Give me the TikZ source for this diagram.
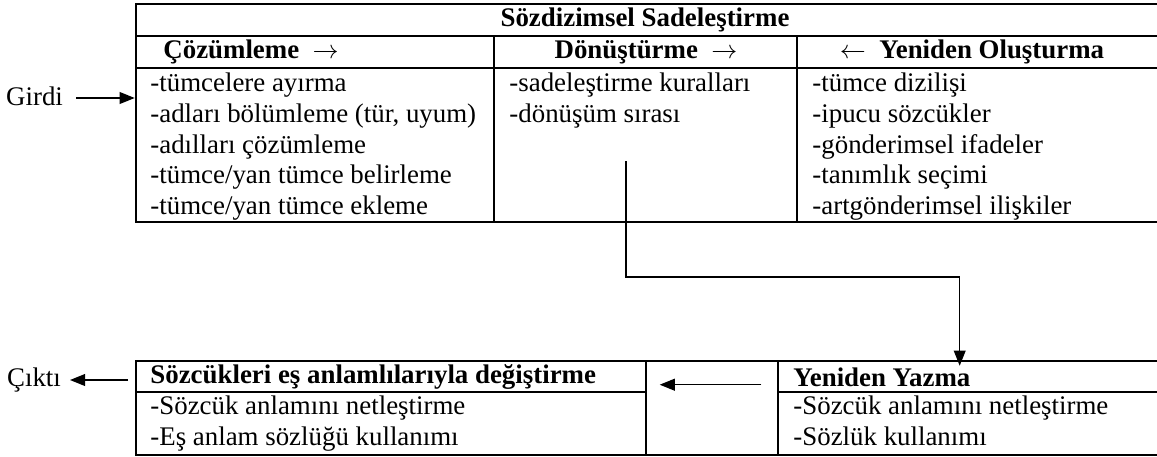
\documentclass[tikz,border=0pt,12pt]{standalone}
\usepackage{fontspec}
\setmainfont{Liberation Serif}
\usetikzlibrary{arrows.meta,fit}

\begin{document}
\begin{tikzpicture}[x=0.4615pt,y=-0.4615pt,font=\fontsize{12.4}{14.2}\selectfont]
		\tikzstyle{frame}=[draw,line width=1.2pt,inner sep=0pt]
		\tikzstyle{head}=[font=\fontsize{12.4}{14.2}\selectfont\bfseries,inner sep=0pt]
		\tikzstyle{items}=[anchor=north west,align=left,inner sep=0pt]
		\tikzstyle{flow}=[-{Triangle[length=7pt,width=5.5pt]},line width=0.6pt]
		
		\useasboundingbox (0,0) rectangle (1157,456);
		
		% ust tablo
		\node[frame,fit={(136,4) (1158,222)}] (sozdizim) {};
		\draw[line width=1.2pt] (136,36) -- (1158,36) (136,68) -- (1158,68)
			(494,36) -- (494,222) (797,36) -- (797,222);
		
		\node[head] (baslik) at (645,20) {Sözdizimsel Sadeleştirme};
		\node[head,anchor=west] (cozh) at (163,52) {Çözümleme~~$\rightarrow$};
		\node[head] (donh) at (646,52) {Dönüştürme~~$\rightarrow$};
		\node[head] (yenh) at (972,52) {$\leftarrow$~~Yeniden Oluşturma};
		
		\node[items] (cozliste) at (150,69.5) {\strut-tümcelere ayırma\\-adları bölümleme (tür, uyum)\\-adılları çözümleme\\-tümce/yan tümce belirleme\\-tümce/yan tümce ekleme};
		\node[items] (donliste) at (509,69.5) {\strut-sadeleştirme kuralları\\-dönüşüm sırası};
		\node[items] (yenliste) at (812,69.5) {\strut-tümce dizilişi\\-ipucu sözcükler\\-gönderimsel ifadeler\\-tanımlık seçimi\\-artgönderimsel ilişkiler};
		
		% alt tablo
		\node[frame,fit={(136,361) (646,455)}] (degistir) {};
		\node[frame,fit={(646,361) (778,455)}] (ara) {};
		\node[frame,fit={(778,361) (1158,455)}] (yazma) {};
		\draw[line width=1.2pt] (136,392) -- (646,392) (778,392) -- (1158,392);
		
		\node[head,anchor=west] (degh) at (150,377) {Sözcükleri eş anlamlılarıyla değiştirme};
		\node[items] (degliste) at (150,393) {\strut-Sözcük anlamını netleştirme\\-Eş anlam sözlüğü kullanımı};
		\node[head,anchor=west] (yazh) at (793,377) {Yeniden Yazma};
		\node[items] (yazliste) at (793,393) {\strut-Sözcük anlamını netleştirme\\-Sözlük kullanımı};
		
		% girdi / cikti
		\node[anchor=east] (girdi) at (72,96) {Girdi};
		\node[anchor=east] (cikti) at (70,380) {Çıktı};
		
		\draw[flow,shorten <=2pt] (girdi.east |- 0,98) -- (sozdizim.west |- 0,98);
		\draw[flow] ([xshift=-3pt]degistir.west |- cikti) -- (cikti);
		\draw[flow] ([shift={(-18,25)}]ara.north east) -- ([shift={(15,25)}]ara.north west);
		
		\coordinate (ayrim) at (626,161);
		\draw[flow,line width=0.5pt] (ayrim) -- ++(0,116) -| ([shift={(183,6)}]yazma.north west);
		
		\end{tikzpicture}
\end{document}
